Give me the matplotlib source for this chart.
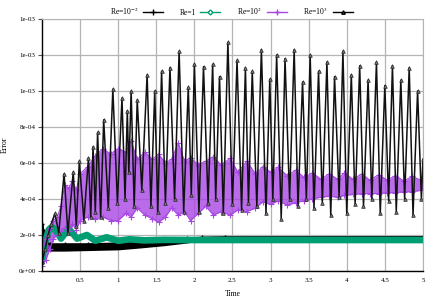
import numpy as np
import matplotlib.pyplot as plt
from matplotlib.lines import Line2D
from matplotlib.ticker import FormatStrFormatter

plt.rcParams['font.family'] = ['Liberation Serif', 'DejaVu Serif']
plt.rcParams['mathtext.fontset'] = 'stix'

# Re=10^3: peaks and troughs (Error in 1e-3)
t_re3 = [0.00, 0.04, 0.08, 0.12, 0.17, 0.22, 0.29, 0.34, 0.41, 0.45, 0.49, 0.55, 0.61, 0.64,
         0.67, 0.70, 0.73, 0.77, 0.81, 0.87, 0.93, 0.99, 1.05, 1.09, 1.12, 1.14, 1.17, 1.21,
         1.25, 1.31, 1.38, 1.43, 1.48, 1.52, 1.57, 1.62, 1.68, 1.74, 1.80, 1.86, 1.92, 1.96,
         2.00, 2.06, 2.12, 2.18, 2.24, 2.28, 2.33, 2.38, 2.44, 2.50, 2.56, 2.62, 2.67, 2.71,
         2.76, 2.82, 2.88, 2.94, 2.99, 3.03, 3.08, 3.14, 3.19, 3.25, 3.31, 3.36, 3.42, 3.47,
         3.52, 3.57, 3.63, 3.68, 3.74, 3.79, 3.84, 3.90, 3.95, 4.00, 4.06, 4.11, 4.17, 4.22,
         4.28, 4.33, 4.39, 4.44, 4.50, 4.55, 4.60, 4.65, 4.71, 4.76, 4.82, 4.87, 4.93, 4.98, 5.00]
e_re3 = [0.05, 0.12, 0.20, 0.26, 0.32, 0.21, 0.54, 0.21, 0.55, 0.25, 0.61, 0.28, 0.63, 0.30,
         0.69, 0.33, 0.77, 0.30, 0.84, 0.35, 1.01, 0.38, 0.96, 0.40, 0.89, 0.55, 1.00, 0.36,
         0.95, 0.45, 1.09, 0.36, 1.00, 0.33, 1.11, 0.38, 1.13, 0.40, 1.22, 0.33, 1.02, 0.42,
         1.15, 0.33, 1.135, 0.38, 1.148, 0.40, 1.08, 0.32, 1.27, 0.37, 1.17, 0.34, 1.13, 0.38,
         1.11, 0.36, 1.23, 0.32, 1.065, 0.40, 1.20, 0.29, 1.18, 0.40, 1.23, 0.36, 1.05, 0.40,
         1.20, 0.35, 1.11, 0.38, 1.16, 0.31, 1.08, 0.41, 1.22, 0.32, 1.09, 0.37, 1.14, 0.36,
         1.06, 0.40, 1.16, 0.32, 1.03, 0.39, 1.14, 0.33, 1.06, 0.40, 1.13, 0.31, 1.00, 0.40, 0.62]

# Re=10^2: upper / lower envelope of the fast oscillation (Error in 1e-4)
t_re2 = [0.00, 0.05, 0.10, 0.15, 0.20, 0.25, 0.30, 0.35, 0.40, 0.45, 0.50, 0.60, 0.70, 0.80,
         0.90, 1.00, 1.10, 1.17, 1.25, 1.35, 1.45, 1.53, 1.62, 1.70, 1.79, 1.87, 1.95, 2.05,
         2.15, 2.25, 2.35, 2.47, 2.57, 2.69, 2.80, 2.90, 3.00, 3.10, 3.22, 3.33, 3.44, 3.55,
         3.66, 3.77, 3.88, 3.97, 4.08, 4.20, 4.30, 4.42, 4.53, 4.64, 4.75, 4.86, 5.00]
up_re2 = [1.0, 1.8, 2.4, 2.8, 3.0, 3.6, 4.8, 4.6, 5.0, 4.5, 5.4, 5.8, 6.4, 6.8,
          6.5, 6.8, 6.6, 7.2, 6.2, 6.6, 6.2, 6.5, 6.0, 6.2, 7.1, 6.1, 6.3, 5.9,
          6.1, 6.35, 5.9, 6.25, 5.5, 6.1, 5.4, 5.8, 5.5, 5.75, 5.3, 5.6, 5.2, 5.45,
          5.1, 5.4, 5.1, 5.45, 5.1, 5.4, 5.05, 5.35, 5.05, 5.3, 5.0, 5.25, 5.0]
lo_re2 = [0.3, 0.6, 1.2, 1.8, 2.0, 2.2, 2.4, 2.2, 2.6, 2.3, 2.8, 3.0, 2.9, 3.0,
          2.8, 2.8, 3.2, 3.0, 3.5, 3.1, 2.9, 2.7, 3.0, 3.5, 3.1, 3.3, 2.8, 3.2,
          3.6, 3.1, 3.3, 3.1, 3.4, 3.3, 3.5, 3.85, 3.7, 3.9, 3.65, 3.8, 3.9, 4.0,
          4.1, 4.15, 4.1, 4.2, 4.25, 4.3, 4.3, 4.3, 4.35, 4.35, 4.4, 4.4, 4.5]

# Re=1 (Error in 1e-4)
t_re1 = [0.00, 0.04, 0.09, 0.13, 0.19, 0.25, 0.35, 0.46, 0.59, 0.70, 0.85, 1.00, 1.15,
         1.35, 1.60, 2.00, 3.00, 4.00, 5.00]
e_re1 = [0.6, 1.6, 2.3, 2.45, 2.2, 1.8, 2.35, 1.8, 2.0, 1.68, 1.87, 1.68, 1.76,
         1.70, 1.73, 1.72, 1.72, 1.72, 1.72]

# Re=10^-2: envelope of the small fast oscillation (Error in 1e-4)
t_rem2 = [0.00, 0.02, 0.05, 0.10, 0.30, 0.60, 1.00, 1.30, 1.60, 1.90, 2.10, 2.40, 5.00]
up_rem2 = [2.6, 2.2, 1.6, 1.5, 1.5, 1.5, 1.55, 1.62, 1.72, 1.82, 1.87, 1.89, 1.90]
lo_rem2 = [2.0, 1.5, 1.2, 1.15, 1.15, 1.18, 1.22, 1.33, 1.45, 1.6, 1.75, 1.85, 1.87]

labels = ['Re=10$^{-2}$', 'Re=1', 'Re=10$^{2}$', 'Re=10$^{3}$']
xticks = [0.5, 1, 1.5, 2, 2.5, 3, 3.5, 4, 4.5, 5]

teal = '#009e73'
purple = '#a846e4'

fig = plt.figure(figsize=(4.36, 3.06), dpi=100)
ax = fig.add_axes([0.0963, 0.1144, 0.8737, 0.8236])

s = 1e-4
ax.fill_between(t_rem2, np.array(lo_rem2) * s, np.array(up_rem2) * s, color='black', lw=1.2)
ax.plot(t_rem2, np.array(up_rem2) * s, color='black', lw=1, marker='+', ms=3, markevery=0.02)

ax.plot(t_re1, np.array(e_re1) * s, color=teal, lw=4.8, solid_joinstyle='round')

ax.fill_between(t_re2, np.array(lo_re2) * s, np.array(up_re2) * s, color=purple, alpha=0.8, lw=0)
ax.plot(t_re2, np.array(up_re2) * s, color=purple, lw=0.8, marker='+', ms=4.5, mew=0.8,
        markevery=0.008)
ax.plot(t_re2, np.array(lo_re2) * s, color=purple, lw=0.8, marker='+', ms=4.5, mew=0.8,
        markevery=0.008)

ax.plot(t_re3, np.array(e_re3) * 1e-3, color='#111111', lw=1.1, marker='^', ms=2.6,
        mfc='#777777', mec='#222222', mew=0.5, markevery=0.009)

ax.set_xlim(0, 5)
ax.set_ylim(0, 1.4e-3)
ax.set_xticks(xticks)
ax.set_xticklabels([f'{v:g}' for v in xticks])
ax.set_yticks(np.arange(0, 1.41e-3, 2e-4))
ax.yaxis.set_major_formatter(FormatStrFormatter('%.0e'))
ax.grid(True, color='#b4b4b4', lw=0.9)
ax.set_axisbelow(True)
for side in ['top', 'right']:
    ax.spines[side].set_color('#b4b4b4')
for side in ['left', 'bottom']:
    ax.spines[side].set_color('black')
    ax.spines[side].set_linewidth(1.0)
ax.tick_params(axis='y', direction='out', length=3, width=0.8, labelsize=5, pad=1.5,
               color='#555555')
ax.tick_params(axis='x', length=0, labelsize=5, pad=5)
ax.set_xlabel('Time', fontsize=5.5, labelpad=5)
ax.set_ylabel('Error', fontsize=5.5)
ax.yaxis.set_label_coords(-0.088, 0.5)

handles = [
    Line2D([], [], color='black', lw=1, marker='+', ms=4),
    Line2D([], [], color=teal, lw=1, marker='D', ms=2.5, mfc='white'),
    Line2D([], [], color=purple, lw=1, marker='+', ms=4),
    Line2D([], [], color='black', lw=1, marker='^', ms=2.5, mfc='#666666'),
]
fig.legend(handles, labels, loc='upper center', bbox_to_anchor=(0.53, 1.005), ncol=4,
           frameon=False, fontsize=5.5, markerfirst=False, handlelength=2.6,
           columnspacing=2.2, handletextpad=0.6, numpoints=1)

fig.savefig('out.png', dpi=100)
